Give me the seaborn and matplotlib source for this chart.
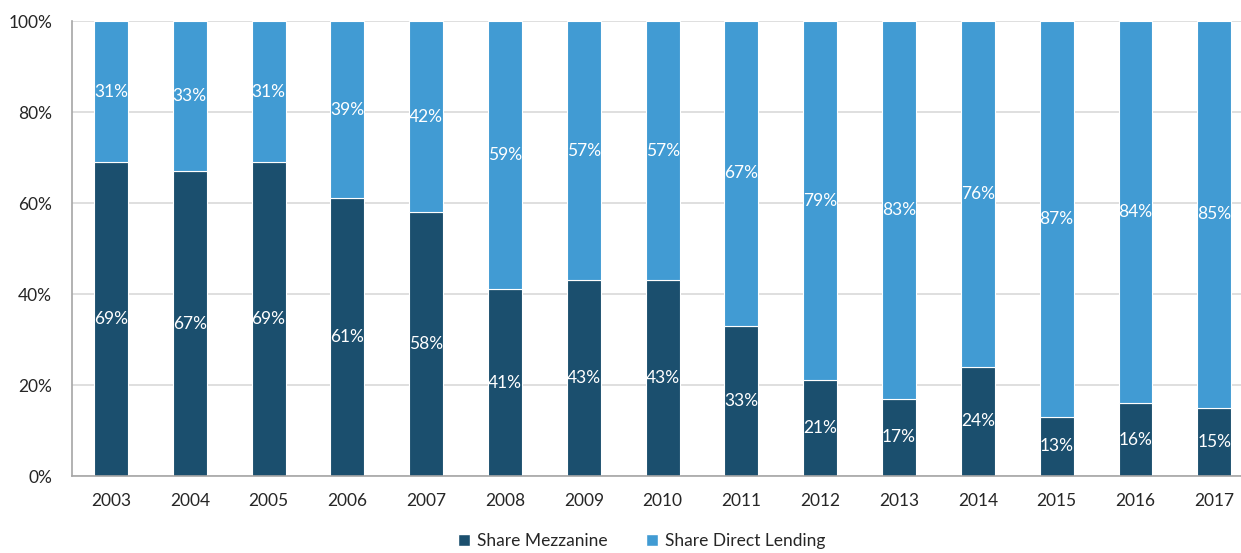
import matplotlib
matplotlib.use("Agg")
import matplotlib.pyplot as plt
from matplotlib.patches import Patch
import seaborn as sns
import pandas as pd

years = ["2003", "2004", "2005", "2006", "2007", "2008", "2009", "2010",
         "2011", "2012", "2013", "2014", "2015", "2016", "2017"]
share_mezzanine = [69, 67, 69, 61, 58, 41, 43, 43, 33, 21, 17, 24, 13, 16, 15]
share_direct_lending = [31, 33, 31, 39, 42, 59, 57, 57, 67, 79, 83, 76, 87, 84, 85]

dark = "#1B4F6E"
light = "#419BD3"

sns.set_theme(style="white")
plt.rcParams["font.family"] = ["Lato", "DejaVu Sans"]

df = pd.DataFrame({"year": years,
                   "mezz": share_mezzanine,
                   "direct": share_direct_lending})

fig = plt.figure(figsize=(12.41, 5.53), dpi=100)
ax = fig.add_axes([0.0577, 0.1392, 0.9525, 0.8228])

sns.barplot(data=df, x="year", y="mezz", color=dark, saturation=1,
            width=0.43, edgecolor="white", linewidth=0.8, ax=ax)
sns.barplot(data=df, x="year", y="direct", bottom=df["mezz"], color=light,
            saturation=1, width=0.43, edgecolor="white", linewidth=0.8, ax=ax)

# value labels centred in each segment
for i, (m, d) in enumerate(zip(share_mezzanine, share_direct_lending)):
    ax.text(i, m / 2, f"{m}%", ha="center", va="center", color="white",
            fontsize=12.5)
    ax.text(i, m + d / 2, f"{d}%", ha="center", va="center", color="white",
            fontsize=12.5)

ax.set_xlim(-0.5, len(years) - 0.5)
ax.set_ylim(0, 100)
ax.set_yticks(range(0, 101, 20))
ax.set_yticklabels([f"{v}%" for v in range(0, 101, 20)])
ax.set_xlabel("")
ax.set_ylabel("")
ax.tick_params(axis="both", length=0, labelsize=12.5, colors="#262626")
ax.tick_params(axis="x", pad=12)
ax.tick_params(axis="y", pad=14)
ax.yaxis.grid(True, color="#D9D9D9", linewidth=1.2)
ax.set_axisbelow(True)
for s in ["top", "right"]:
    ax.spines[s].set_visible(False)
ax.spines["left"].set_color("#A6A6A6")
ax.spines["bottom"].set_color("#A6A6A6")
ax.spines["left"].set_linewidth(1.2)
ax.spines["bottom"].set_linewidth(1.2)

handles = [Patch(facecolor=dark, label="Share Mezzanine"),
           Patch(facecolor=light, label="Share Direct Lending")]
fig.legend(handles=handles, loc="center", bbox_to_anchor=(0.517, 0.022),
           ncol=2, frameon=False, fontsize=12.5, handlelength=0.7,
           handleheight=0.7, handletextpad=0.4, columnspacing=2.2,
           borderpad=0.1)

fig.savefig("out.png", dpi=100)
